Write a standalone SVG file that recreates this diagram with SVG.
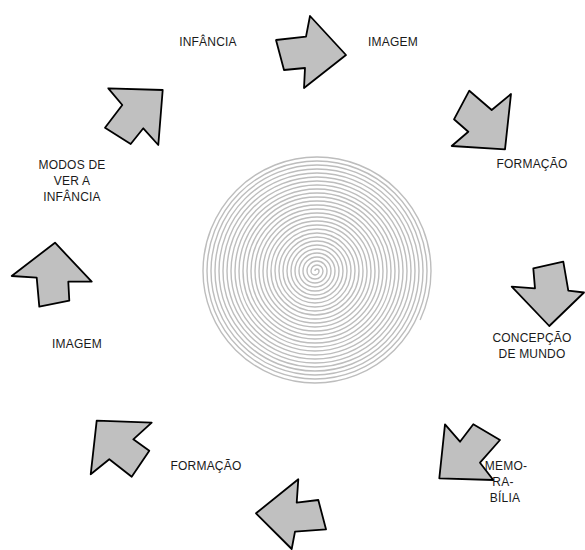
<svg xmlns="http://www.w3.org/2000/svg" width="585" height="550" viewBox="0 0 585 550">
<style>
.arr{fill:#c0c0c0;stroke:#000;stroke-width:1.8;stroke-linejoin:round}
.lbl{font-family:"Liberation Sans",Arial,sans-serif;font-size:12px;fill:#1a1a1a;text-anchor:middle;letter-spacing:0.2px}
.sp{fill:none;stroke:#bdbdbd;stroke-width:1.4}
</style>
<rect width="585" height="550" fill="#fff"/>
<g id="spiral">
<path class="sp" d="M315 271 A2 2 0 0 1 319 271 A4 4 0 0 1 311 271 A6 6 0 0 1 323 271 A8 8 0 0 1 307 271 A10 10 0 0 1 327 271 A12 12 0 0 1 303 271 A14 14 0 0 1 331 271 A16 16 0 0 1 299 271 A18 18 0 0 1 335 271 A20 20 0 0 1 295 271 A22 22 0 0 1 339 271 A24 24 0 0 1 291 271 A26 26 0 0 1 343 271 A28 28 0 0 1 287 271 A30 30 0 0 1 347 271 A32 32 0 0 1 283 271 A34 34 0 0 1 351 271 A36 36 0 0 1 279 271 A38 38 0 0 1 355 271 A40 40 0 0 1 275 271 A42 42 0 0 1 359 271 A44 44 0 0 1 271 271 A46 46 0 0 1 363 271 A48 48 0 0 1 267 271 A50 50 0 0 1 367 271 A52 52 0 0 1 263 271 A54 54 0 0 1 371 271 A56 56 0 0 1 259 271 A58 58 0 0 1 375 271 A60 60 0 0 1 255 271 A62 62 0 0 1 379 271 A64 64 0 0 1 251 271 A66 66 0 0 1 383 271 A68 68 0 0 1 247 271 A70 70 0 0 1 387 271 A72 72 0 0 1 243 271 A74 74 0 0 1 391 271 A76 76 0 0 1 239 271 A78 78 0 0 1 395 271 A80 80 0 0 1 235 271 A82 82 0 0 1 399 271 A84 84 0 0 1 231 271 A86 86 0 0 1 403 271 A88 88 0 0 1 227 271 A90 90 0 0 1 407 271 A92 92 0 0 1 223 271 A94 94 0 0 1 411 271 A96 96 0 0 1 219 271 A98 98 0 0 1 415 271 A100 100 0 0 1 215 271 A102 102 0 0 1 419 271 A104 104 0 0 1 211 271 A106 106 0 0 1 423 271 A108 108 0 0 1 207 271 A110 110 0 0 1 427 271 A112 112 0 0 1 203 271 A114 114 0 0 1 431 271 A116 116 0 0 1 420.1 320"/>
</g>
<g id="connectors">
<polygon id="arrow1" class="arr" points="276,40 306,36.7 310,16 346,55 304,88 305,68 284,70"/>
<polygon id="arrow2" class="arr" points="469.3,90.7 491.7,110 511,94 505,149.3 451.7,146 468.3,131.7 454,119.3"/>
<polygon id="arrow3" class="arr" points="533.3,268.3 563.3,261.7 568.3,290.7 584,292.5 549.3,326 511.7,286.7 535,288.3"/>
<polygon id="arrow4" class="arr" points="445,424.3 460,441.7 473.3,424.3 500,440 480,462.7 493.3,480 439.3,478.3"/>
<polygon id="arrow5" class="arr" points="298.3,479.3 296.7,502.7 318.3,500 326,529.3 295,531.7 291.7,549 256,513.3"/>
<polygon id="arrow6" class="arr" points="96.7,420.7 151.7,422.7 133.3,439.3 149.3,450.7 131.7,476.7 109.3,459.3 90.7,474.3"/>
<polygon id="arrow7" class="arr" points="55,242.7 91.7,281.7 68.3,281.7 69.3,300.7 39.3,306.7 36.7,277.7 11.7,276"/>
<polygon id="arrow8" class="arr" points="108.3,88.3 162.7,90 158.3,145 143.3,128.3 130.7,144 105,127.7 122.3,105"/>
</g>
<g id="n-infancia"><text class="lbl" x="208" y="46">INFÂNCIA</text></g>
<g id="n-imagem1"><text class="lbl" x="393" y="46">IMAGEM</text></g>
<g id="n-formacao1"><text class="lbl" x="532" y="168">FORMAÇÃO</text></g>
<g id="n-concepcao"><text class="lbl" x="532" y="342">CONCEPÇÃO</text><text class="lbl" x="532" y="358">DE MUNDO</text></g>
<g id="n-memorabilia"><text class="lbl" x="506" y="470">MEMO-</text><text class="lbl" x="503" y="486">RA-</text><text class="lbl" x="505" y="502">BÍLIA</text></g>
<g id="n-formacao2"><text class="lbl" x="206" y="470">FORMAÇÃO</text></g>
<g id="n-imagem2"><text class="lbl" x="77" y="348">IMAGEM</text></g>
<g id="n-modos"><text class="lbl" x="72" y="169">MODOS DE</text><text class="lbl" x="72" y="185">VER A</text><text class="lbl" x="72" y="201">INFÂNCIA</text></g>
</svg>
